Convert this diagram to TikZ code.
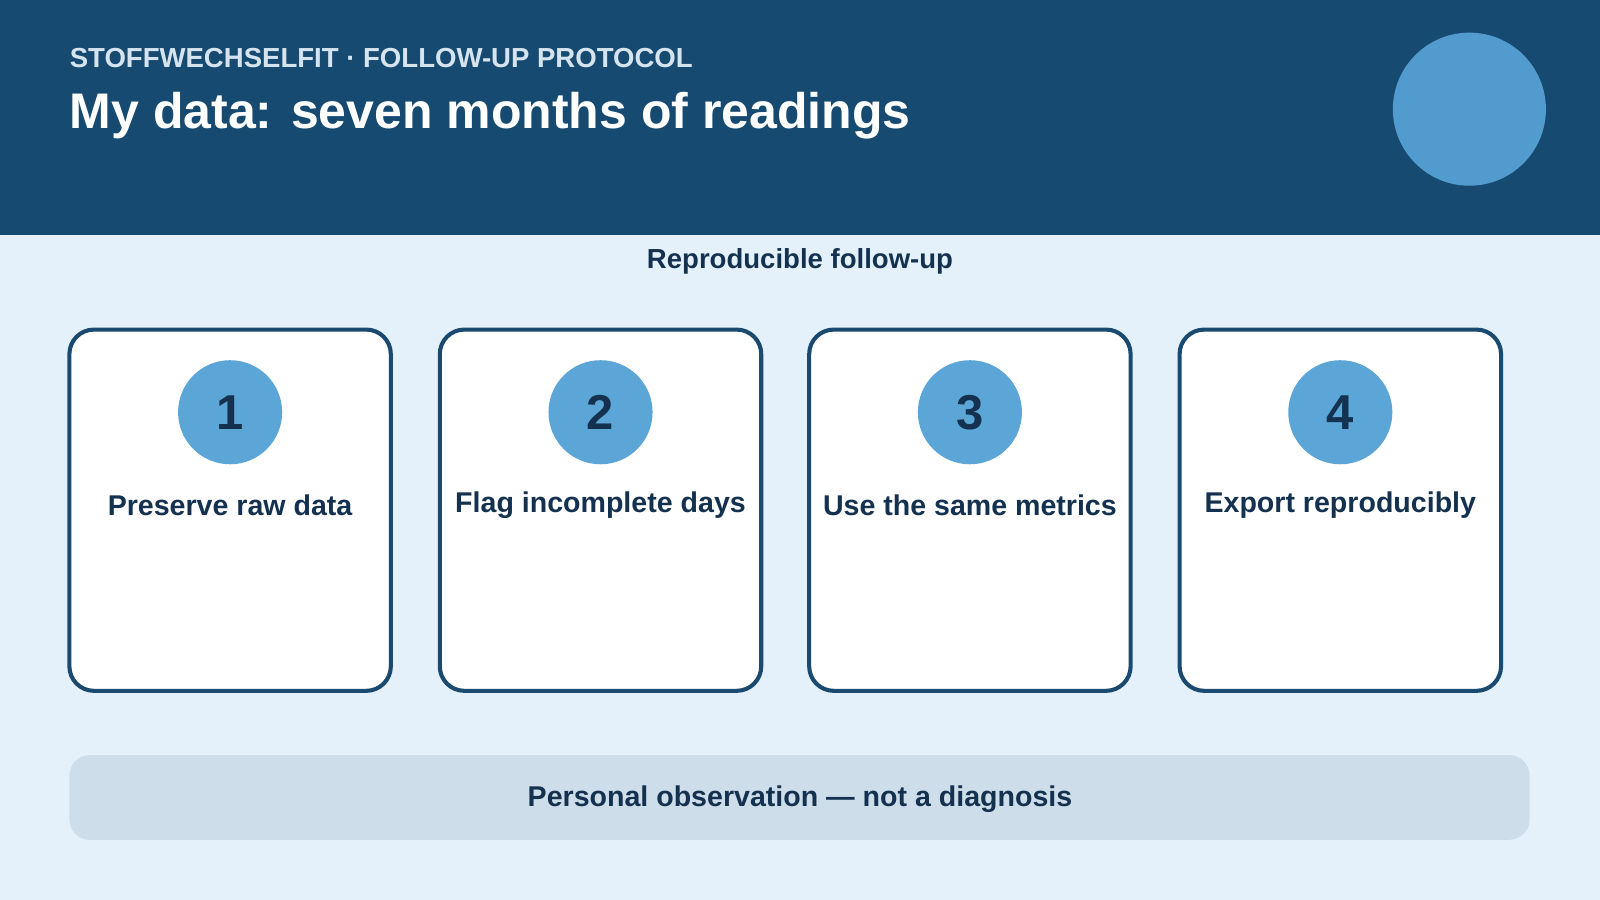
\documentclass[tikz,border=0pt]{standalone}
\usepackage{fontspec}
\setmainfont{Liberation Sans}
\definecolor{hdr}{HTML}{174A70}
\definecolor{bg}{HTML}{E4F1FB}
\definecolor{deco}{HTML}{529BCE}
\definecolor{num}{HTML}{5BA5D7}
\definecolor{ink}{HTML}{14324F}
\definecolor{sub}{HTML}{D6E4F0}
\definecolor{foot}{HTML}{CEDDEA}
\definecolor{edge}{HTML}{1B4A70}
\begin{document}
\begin{tikzpicture}[x=0.5pt,y=-0.5pt,
  card/.style={draw=edge,line width=2pt,fill=white,rounded corners=12pt},
  numc/.style={circle,fill=num,minimum size=51pt,inner sep=0pt,text=ink,font=\bfseries\fontsize{24}{28}\selectfont},
  lab/.style={text=ink,font=\bfseries\fontsize{14}{17}\selectfont}]
\useasboundingbox (0,0) rectangle (1568,882);
\fill[bg] (0,0) rectangle (1568,882);
\fill[hdr] (0,0) rectangle (1568,230);
\node[circle,fill=deco,minimum size=75pt,inner sep=0pt] (deco) at (1440,107) {};
\node[anchor=west,text=sub,font=\bfseries\fontsize{13.5}{16}\selectfont,inner sep=0pt] (sub) at (68,57) {STOFFWECHSELFIT · FOLLOW-UP PROTOCOL};
\node[anchor=west,text=white,font=\bfseries\fontsize{24.5}{29}\selectfont,inner sep=0pt] (title) at (68,113) {My data: seven months of readings};
\node[lab,font=\bfseries\fontsize{13.5}{16}\selectfont] (rf) at (784,256) {Reproducible follow-up};
\foreach \x/\n/\t in {68/1/Preserve raw data,431/2/Flag incomplete days,793/3/Use the same metrics,1156/4/Export reproducibly}{
  \draw[card] (\x,323) rectangle (\x+315,677);
  \node[numc] (c\n) at (\x+157.5,404) {\n};
  \node[lab] (l\n) at (\x+157.5,495) {\t};
}
\fill[foot,rounded corners=10pt] (68,740) rectangle (1499,823);
\node[lab] (ft) at (784,783) {Personal observation — not a diagnosis};
\end{tikzpicture}
\end{document}
